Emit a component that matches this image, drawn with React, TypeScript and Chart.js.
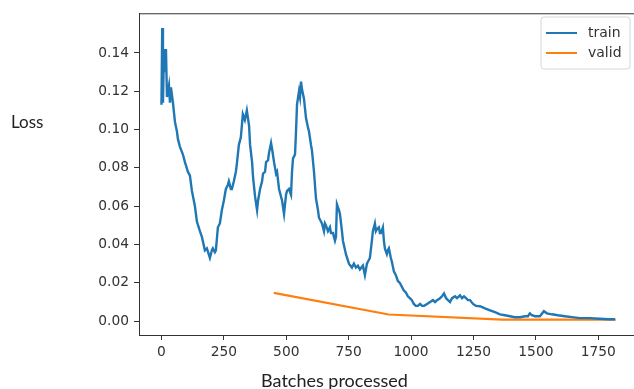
import React, { useEffect, useRef } from "react";
import { Chart, registerables } from "chart.js";

Chart.register(...registerables);

const trainBatches = [
  0, 3, 6, 10, 14, 18, 22, 30, 34, 38, 46, 54, 62, 66, 74, 86, 94, 106, 114, 122,
  134, 142, 154, 162, 174, 182, 194, 202, 206, 214, 218, 226, 234, 242, 250, 258,
  266, 270, 278, 282, 290, 298, 302, 310, 318, 326, 334, 342, 351, 355, 363, 367,
  375, 383, 387, 395, 403, 407, 415, 419, 427, 431, 439, 443, 451, 459, 463, 471,
  483, 491, 499, 503, 511, 519, 523, 527, 535, 539, 543, 551, 555, 559, 563, 571,
  579, 587, 591, 599, 603, 611, 619, 627, 631, 639, 643, 651, 655, 659, 667, 675,
  679, 687, 695, 699, 703, 711, 715, 723, 727, 739, 751, 763, 771, 779, 787, 795,
  807, 815, 823, 827, 835, 843, 847, 855, 859, 863, 871, 875, 879, 887, 891, 895,
  903, 907, 911, 919, 923, 931, 939, 947, 955, 963, 971, 979, 987, 995, 1003, 1011,
  1019, 1027, 1036, 1044, 1052, 1064, 1076, 1088, 1096, 1104, 1116, 1124, 1132, 1140,
  1148, 1156, 1164, 1176, 1184, 1196, 1204, 1212, 1220, 1228, 1236, 1248, 1260, 1276,
  1296, 1316, 1336, 1356, 1376, 1396, 1416, 1436, 1456, 1468, 1476, 1484, 1496, 1516,
  1532, 1544, 1564, 1588, 1616, 1644, 1676, 1716, 1756, 1789, 1817,
];

const trainLoss = [
  0.113, 0.153, 0.114, 0.142, 0.13, 0.142, 0.117, 0.123, 0.114, 0.122, 0.114, 0.104,
  0.099, 0.095, 0.091, 0.087, 0.083, 0.078, 0.076, 0.068, 0.06, 0.052, 0.047, 0.044,
  0.037, 0.038, 0.033, 0.037, 0.038, 0.036, 0.037, 0.049, 0.051, 0.058, 0.063, 0.069,
  0.071, 0.073, 0.069, 0.069, 0.073, 0.078, 0.082, 0.092, 0.096, 0.108, 0.105, 0.11,
  0.102, 0.092, 0.083, 0.075, 0.065, 0.058, 0.063, 0.069, 0.073, 0.077, 0.078, 0.083,
  0.084, 0.088, 0.093, 0.09, 0.083, 0.077, 0.078, 0.069, 0.063, 0.056, 0.066, 0.068,
  0.069, 0.066, 0.078, 0.085, 0.087, 0.099, 0.113, 0.12, 0.117, 0.125, 0.121, 0.116,
  0.106, 0.101, 0.099, 0.092, 0.089, 0.078, 0.064, 0.058, 0.054, 0.052, 0.051, 0.047,
  0.051, 0.05, 0.047, 0.049, 0.046, 0.046, 0.042, 0.044, 0.061, 0.058, 0.056, 0.047,
  0.042, 0.035, 0.03, 0.028, 0.03, 0.028, 0.029, 0.027, 0.029, 0.024, 0.03, 0.031,
  0.033, 0.042, 0.047, 0.051, 0.047, 0.048, 0.049, 0.046, 0.046, 0.049, 0.042, 0.038,
  0.035, 0.037, 0.038, 0.033, 0.031, 0.026, 0.024, 0.021, 0.02, 0.018, 0.016, 0.015,
  0.013, 0.012, 0.011, 0.009, 0.008, 0.008, 0.009, 0.008, 0.008, 0.009, 0.01, 0.011,
  0.01, 0.011, 0.012, 0.013, 0.0145, 0.012, 0.011, 0.01, 0.012, 0.013, 0.012, 0.0135,
  0.012, 0.013, 0.012, 0.011, 0.011, 0.009, 0.008, 0.0078, 0.0067, 0.0057, 0.0047,
  0.0036, 0.0031, 0.0026, 0.0021, 0.0021, 0.0026, 0.0026, 0.0041, 0.0031, 0.0026,
  0.0026, 0.0052, 0.0041, 0.0036, 0.0031, 0.0026, 0.0021, 0.0016, 0.0016, 0.0013,
  0.001, 0.001,
];

const validBatches = [450, 910, 1365, 1820];
const validLoss = [0.0148, 0.0035, 0.0008, 0.0008];

const xTicks = [0, 250, 500, 750, 1000, 1250, 1500, 1750];
const yTicks = [0, 0.02, 0.04, 0.06, 0.08, 0.1, 0.12, 0.14];

const seriesNames = ["train", "valid"];
const seriesColors = ["#1f77b4", "#ff7f0e"];
const xTitle = "Batches processed";
const yTitle = "Loss";

const tickFont = { family: "DejaVu Sans", size: 13.8 };
const tickColor = "#333333";

const decorPlugin = {
  id: "decor",
  afterDraw(chart: any) {
    const { ctx, chartArea } = chart;
    ctx.save();
    // top spine
    ctx.strokeStyle = "#333333";
    ctx.lineWidth = 1;
    ctx.beginPath();
    ctx.moveTo(chartArea.left, chartArea.top + 0.5);
    ctx.lineTo(chartArea.right, chartArea.top + 0.5);
    ctx.stroke();

    // axis titles
    ctx.fillStyle = "#222222";
    ctx.font = "17px Lato";
    ctx.textBaseline = "alphabetic";
    ctx.textAlign = "left";
    ctx.fillText(yTitle, 11, 128);
    ctx.textAlign = "center";
    ctx.font = "18px Lato";
    ctx.fillText(xTitle, 334.5, 387);

    // legend
    const bx = 541, by = 17, bw = 89, bh = 52, r = 3;
    ctx.fillStyle = "rgba(255,255,255,0.85)";
    ctx.strokeStyle = "#d6d6d6";
    ctx.beginPath();
    ctx.moveTo(bx + r, by);
    ctx.lineTo(bx + bw - r, by);
    ctx.quadraticCurveTo(bx + bw, by, bx + bw, by + r);
    ctx.lineTo(bx + bw, by + bh - r);
    ctx.quadraticCurveTo(bx + bw, by + bh, bx + bw - r, by + bh);
    ctx.lineTo(bx + r, by + bh);
    ctx.quadraticCurveTo(bx, by + bh, bx, by + bh - r);
    ctx.lineTo(bx, by + r);
    ctx.quadraticCurveTo(bx, by, bx + r, by);
    ctx.closePath();
    ctx.fill();
    ctx.stroke();

    ctx.font = "14px 'DejaVu Sans'";
    ctx.textAlign = "left";
    ctx.textBaseline = "middle";
    seriesNames.forEach((name, i) => {
      const y = 33 + i * 20;
      ctx.strokeStyle = seriesColors[i];
      ctx.lineWidth = 2;
      ctx.beginPath();
      ctx.moveTo(546, y);
      ctx.lineTo(577, y);
      ctx.stroke();
      ctx.fillStyle = tickColor;
      ctx.fillText(name, 588, y);
    });
    ctx.restore();
  },
};

export default function App() {
  const ref = useRef<HTMLCanvasElement | null>(null);

  useEffect(() => {
    document.body.style.margin = "0";
    document.body.style.overflow = "hidden";
    const canvas = ref.current;
    if (!canvas) return;
    const trainData = trainBatches.map((x, i) => ({ x, y: trainLoss[i] }));
    const validData = validBatches.map((x, i) => ({ x, y: validLoss[i] }));
    const chart = new Chart(canvas, {
      type: "line",
      data: {
        datasets: [
          {
            label: seriesNames[0],
            data: trainData,
            borderColor: seriesColors[0],
            borderWidth: 2.4,
            pointRadius: 0,
            tension: 0,
            fill: false,
          },
          {
            label: seriesNames[1],
            data: validData,
            borderColor: seriesColors[1],
            borderWidth: 2.2,
            pointRadius: 0,
            tension: 0,
            fill: false,
          },
        ],
      },
      options: {
        responsive: false,
        animation: false,
        layout: { padding: { top: 11, right: 0, left: 0, bottom: 0 } },
        plugins: {
          legend: { display: false },
          tooltip: { enabled: false },
        },
        scales: {
          x: {
            type: "linear",
            min: -90,
            max: 1893,
            afterFit: (s: any) => {
              s.height = 54;
            },
            afterBuildTicks: (s: any) => {
              s.ticks = xTicks.map((v) => ({ value: v }));
            },
            ticks: {
              font: tickFont,
              color: tickColor,
              padding: 4,
              maxRotation: 0,
              autoSkip: false,
              callback: (v: any) => String(v),
            },
            grid: {
              drawOnChartArea: false,
              drawTicks: true,
              tickLength: 5,
              color: "#333333",
            },
            border: { display: true, color: "#333333" },
          },
          y: {
            type: "linear",
            min: -0.0072,
            max: 0.1607,
            afterFit: (s: any) => {
              s.width = 139;
            },
            afterBuildTicks: (s: any) => {
              s.ticks = yTicks.map((v) => ({ value: v }));
            },
            ticks: {
              font: tickFont,
              color: tickColor,
              padding: 5,
              autoSkip: false,
              callback: (v: any) => Number(v).toFixed(2),
            },
            grid: {
              drawOnChartArea: false,
              drawTicks: true,
              tickLength: 5,
              color: "#333333",
            },
            border: { display: true, color: "#333333" },
          },
        },
      },
      plugins: [decorPlugin],
    });
    return () => chart.destroy();
  }, []);

  return (
    <div style={{ width: 634, height: 389, position: "relative", background: "#fff" }}>
      <canvas ref={ref} width={634} height={389} />
    </div>
  );
}
